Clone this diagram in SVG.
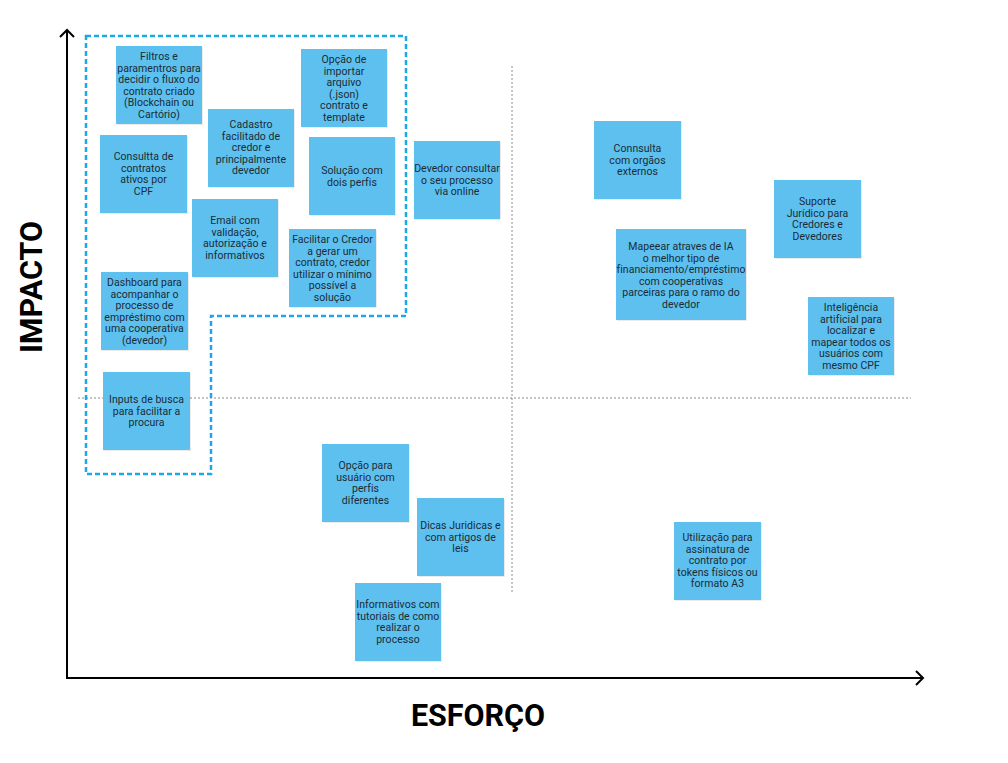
<svg xmlns="http://www.w3.org/2000/svg" width="1008" height="763" viewBox="0 0 1008 763">
<defs>
<style>
.note rect.bg{fill:#5dc0ee;}
.note rect.sh{fill:#000;opacity:0.08;}
.note text{font-family:Roboto,"Liberation Sans",sans-serif;font-size:10.5px;fill:#1c2b36;text-anchor:middle;letter-spacing:0.05px;}
.axis{stroke:#000;stroke-width:2;fill:none;}
.grid{stroke:#8a8a8a;stroke-width:1;stroke-dasharray:2 2;fill:none;}
.group{stroke:#1aa8ea;stroke-width:2.5;stroke-dasharray:5 3;fill:none;}
.title{font-family:Roboto,"Liberation Sans",sans-serif;font-weight:bold;font-size:30.5px;fill:#000;}
</style>
</defs>
<rect width="1008" height="763" fill="#fff"/>
<g id="grid">
<line class="grid" x1="78" y1="398" x2="911" y2="398"/>
<line class="grid" x1="512" y1="66" x2="512" y2="592"/>
</g>
<g id="axes">
<line class="axis" x1="67" y1="30" x2="67" y2="679"/>
<line class="axis" x1="66" y1="678" x2="923" y2="678"/>
<polyline class="axis" points="60,37 67,30 74,37"/>
<polyline class="axis" points="916,671 923,678 916,685"/>
<text class="title" x="478" y="726" text-anchor="middle">ESFORÇO</text>
<text class="title" transform="translate(42,287) rotate(-90)" text-anchor="middle">IMPACTO</text>
</g>
<g id="group-quick-wins">
<polygon class="group" points="86,36 406,36 406,316 211,316 211,474 86,474"/>
</g>
<g id="connectors"></g>
<g id="n-filtros" class="note"><rect class="sh" x="117" y="47" width="86" height="78"/><rect class="bg" x="116" y="46" width="86" height="78"/>
<text x="159" y="60"><tspan x="159" dy="0">Filtros e</tspan><tspan x="159" dy="11.5">paramentros para</tspan><tspan x="159" dy="11.5">decidir o fluxo do</tspan><tspan x="159" dy="11.5">contrato criado</tspan><tspan x="159" dy="11.5">(Blockchain ou</tspan><tspan x="159" dy="11.5">Cartório)</tspan></text></g>
<g id="n-importar" class="note"><rect class="sh" x="302" y="50" width="86" height="78"/><rect class="bg" x="301" y="49" width="86" height="78"/>
<text x="344" y="63"><tspan x="344" dy="0">Opção de</tspan><tspan x="344" dy="11.5">importar</tspan><tspan x="344" dy="11.5">arquivo</tspan><tspan x="344" dy="11.5">(.json)</tspan><tspan x="344" dy="11.5">contrato e</tspan><tspan x="344" dy="11.5">template</tspan></text></g>
<g id="n-cadastro" class="note"><rect class="sh" x="209" y="110" width="86" height="78"/><rect class="bg" x="208" y="109" width="86" height="78"/>
<text x="251" y="128"><tspan x="251" dy="0">Cadastro</tspan><tspan x="251" dy="11.5">facilitado de</tspan><tspan x="251" dy="11.5">credor e</tspan><tspan x="251" dy="11.5">principalmente</tspan><tspan x="251" dy="11.5">devedor</tspan></text></g>
<g id="n-consultta" class="note"><rect class="sh" x="101" y="136" width="87" height="78"/><rect class="bg" x="100" y="135" width="87" height="78"/>
<text x="143.5" y="160"><tspan x="143.5" dy="0">Consultta de</tspan><tspan x="143.5" dy="11.5">contratos</tspan><tspan x="143.5" dy="11.5">ativos por</tspan><tspan x="143.5" dy="11.5">CPF</tspan></text></g>
<g id="n-solucao" class="note"><rect class="sh" x="310" y="138" width="86" height="78"/><rect class="bg" x="309" y="137" width="86" height="78"/>
<text x="352" y="174"><tspan x="352" dy="0">Solução com</tspan><tspan x="352" dy="11.5">dois perfis</tspan></text></g>
<g id="n-email" class="note"><rect class="sh" x="193" y="200" width="86" height="78"/><rect class="bg" x="192" y="199" width="86" height="78"/>
<text x="235" y="224"><tspan x="235" dy="0">Email com</tspan><tspan x="235" dy="11.5">validação,</tspan><tspan x="235" dy="11.5">autorização e</tspan><tspan x="235" dy="11.5">informativos</tspan></text></g>
<g id="n-facilitar" class="note"><rect class="sh" x="290" y="230" width="87" height="78"/><rect class="bg" x="289" y="229" width="87" height="78"/>
<text x="332.5" y="243"><tspan x="332.5" dy="0">Facilitar o Credor</tspan><tspan x="332.5" dy="11.5">a gerar um</tspan><tspan x="332.5" dy="11.5">contrato, credor</tspan><tspan x="332.5" dy="11.5">utilizar o mínimo</tspan><tspan x="332.5" dy="11.5">possível a</tspan><tspan x="332.5" dy="11.5">solução</tspan></text></g>
<g id="n-dashboard" class="note"><rect class="sh" x="102" y="273" width="87" height="78"/><rect class="bg" x="101" y="272" width="87" height="78"/>
<text x="144.5" y="286"><tspan x="144.5" dy="0">Dashboard para</tspan><tspan x="144.5" dy="11.5">acompanhar o</tspan><tspan x="144.5" dy="11.5">processo de</tspan><tspan x="144.5" dy="11.5">empréstimo com</tspan><tspan x="144.5" dy="11.5">uma cooperativa</tspan><tspan x="144.5" dy="11.5">(devedor)</tspan></text></g>
<g id="n-inputs" class="note"><rect class="sh" x="104" y="373" width="87" height="78"/><rect class="bg" x="103" y="372" width="87" height="78"/>
<text x="146.5" y="403"><tspan x="146.5" dy="0">Inputs de busca</tspan><tspan x="146.5" dy="11.5">para facilitar a</tspan><tspan x="146.5" dy="11.5">procura</tspan></text></g>
<g id="n-devedor" class="note"><rect class="sh" x="415" y="142" width="86" height="78"/><rect class="bg" x="414" y="141" width="86" height="78"/>
<text x="457" y="172"><tspan x="457" dy="0">Devedor consultar</tspan><tspan x="457" dy="11.5">o seu processo</tspan><tspan x="457" dy="11.5">via online</tspan></text></g>
<g id="n-connsulta" class="note"><rect class="sh" x="595" y="122" width="87" height="78"/><rect class="bg" x="594" y="121" width="87" height="78"/>
<text x="637.5" y="152"><tspan x="637.5" dy="0">Connsulta</tspan><tspan x="637.5" dy="11.5">com orgãos</tspan><tspan x="637.5" dy="11.5">externos</tspan></text></g>
<g id="n-suporte" class="note"><rect class="sh" x="775" y="181" width="87" height="78"/><rect class="bg" x="774" y="180" width="87" height="78"/>
<text x="817.5" y="205"><tspan x="817.5" dy="0">Suporte</tspan><tspan x="817.5" dy="11.5">Jurídico para</tspan><tspan x="817.5" dy="11.5">Credores e</tspan><tspan x="817.5" dy="11.5">Devedores</tspan></text></g>
<g id="n-mapeear" class="note"><rect class="sh" x="617" y="230" width="130" height="91"/><rect class="bg" x="616" y="229" width="130" height="91"/>
<text x="681" y="250"><tspan x="681" dy="0">Mapeear atraves de IA</tspan><tspan x="681" dy="11.5">o melhor tipo de</tspan><tspan x="681" dy="11.5">financiamento/empréstimo</tspan><tspan x="681" dy="11.5">com cooperativas</tspan><tspan x="681" dy="11.5">parceiras para o ramo do</tspan><tspan x="681" dy="11.5">devedor</tspan></text></g>
<g id="n-inteligencia" class="note"><rect class="sh" x="809" y="298" width="86" height="78"/><rect class="bg" x="808" y="297" width="86" height="78"/>
<text x="851" y="311"><tspan x="851" dy="0">Inteligência</tspan><tspan x="851" dy="11.5">artificial para</tspan><tspan x="851" dy="11.5">localizar e</tspan><tspan x="851" dy="11.5">mapear todos os</tspan><tspan x="851" dy="11.5">usuários com</tspan><tspan x="851" dy="11.5">mesmo CPF</tspan></text></g>
<g id="n-opcao-usuario" class="note"><rect class="sh" x="323" y="445" width="87" height="78"/><rect class="bg" x="322" y="444" width="87" height="78"/>
<text x="365.5" y="469"><tspan x="365.5" dy="0">Opção para</tspan><tspan x="365.5" dy="11.5">usuário com</tspan><tspan x="365.5" dy="11.5">perfis</tspan><tspan x="365.5" dy="11.5">diferentes</tspan></text></g>
<g id="n-dicas" class="note"><rect class="sh" x="418" y="499" width="87" height="78"/><rect class="bg" x="417" y="498" width="87" height="78"/>
<text x="460.5" y="529"><tspan x="460.5" dy="0">Dicas Juridicas e</tspan><tspan x="460.5" dy="11.5">com artigos de</tspan><tspan x="460.5" dy="11.5">leis</tspan></text></g>
<g id="n-informativos" class="note"><rect class="sh" x="356" y="584" width="86" height="78"/><rect class="bg" x="355" y="583" width="86" height="78"/>
<text x="398" y="608"><tspan x="398" dy="0">Informativos com</tspan><tspan x="398" dy="11.5">tutoriais de como</tspan><tspan x="398" dy="11.5">realizar o</tspan><tspan x="398" dy="11.5">processo</tspan></text></g>
<g id="n-utilizacao" class="note"><rect class="sh" x="675" y="523" width="87" height="78"/><rect class="bg" x="674" y="522" width="87" height="78"/>
<text x="717.5" y="541"><tspan x="717.5" dy="0">Utilização para</tspan><tspan x="717.5" dy="11.5">assinatura de</tspan><tspan x="717.5" dy="11.5">contrato por</tspan><tspan x="717.5" dy="11.5">tokens físicos ou</tspan><tspan x="717.5" dy="11.5">formato A3</tspan></text></g>
</svg>
